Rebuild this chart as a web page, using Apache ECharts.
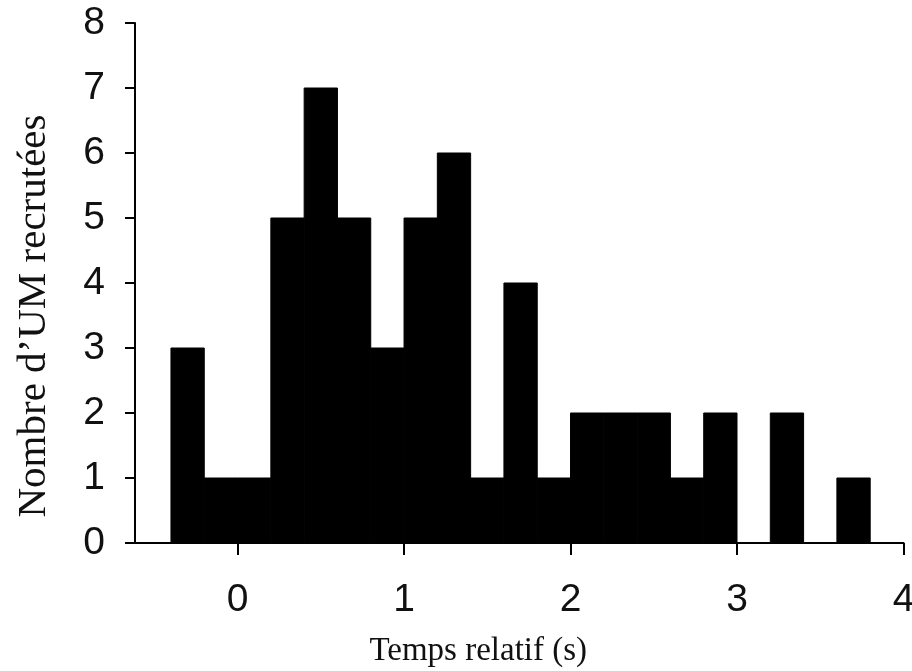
<!DOCTYPE html>
<html>
<head>
<meta charset="utf-8">
<style>html,body{margin:0;padding:0;background:#fff;}#c{width:912px;height:671px;}</style>
<script src="https://cdn.jsdelivr.net/npm/echarts@6.0.0/dist/echarts.min.js"></script>
</head>
<body>
<div id="c"></div>
<script>
// Histogram bins (s): start and end of each bin, and counts
const binStart = [-0.4,-0.2,0.0,0.2,0.4,0.6,0.8,1.0,1.2,1.4,1.6,1.8,2.0,2.2,2.4,2.6,2.8,3.0,3.2,3.4,3.6];
const binEnd   = [-0.2,0.0,0.2,0.4,0.6,0.8,1.0,1.2,1.4,1.6,1.8,2.0,2.2,2.4,2.6,2.8,3.0,3.2,3.4,3.6,3.8];
const counts   = [3,1,1,5,7,5,3,5,6,1,4,1,2,2,2,1,2,0,2,0,1];
const xTicks = [0,1,2,3,4];
const yTicks = [0,1,2,3,4,5,6,7,8];
const xTitle = 'Temps relatif (s)';
const yTitle = 'Nombre d\u2019UM recrutées';

const data = binStart.map((s,i)=>[s, binEnd[i], counts[i]]);
const chart = echarts.init(document.getElementById('c'), null, {renderer:'canvas'});
chart.setOption({
  animation:false,
  grid:{left:135, right:8.5, top:23, bottom:128, containLabel:false, outerBoundsMode:'none'},
  xAxis:{
    type:'value', min:-0.616, max:4,
    axisLine:{show:true, onZero:false, lineStyle:{color:'#000', width:2}},
    axisTick:{show:true, customValues:xTicks, length:12, lineStyle:{color:'#000', width:2}},
    axisLabel:{customValues:xTicks, fontFamily:'Liberation Sans', fontSize:39, color:'#111', margin:38},
    splitLine:{show:false},
    name:xTitle, nameLocation:'middle', nameGap:92,
    nameTextStyle:{fontFamily:'Liberation Serif', fontSize:33, color:'#111', padding:[0,82,0,0]}
  },
  yAxis:{
    type:'value', min:0, max:8, interval:1,
    axisLine:{show:true, onZero:false, lineStyle:{color:'#000', width:2}},
    axisTick:{show:true, length:10, lineStyle:{color:'#000', width:2}},
    axisLabel:{fontFamily:'Liberation Sans', fontSize:39, color:'#111', margin:30,
      formatter:(v)=> yTicks.includes(v) ? String(v) : ''},
    splitLine:{show:false},
    name:yTitle, nameLocation:'middle', nameGap:80,
    nameTextStyle:{fontFamily:'Liberation Serif', fontSize:41, color:'#111', padding:[0,66,0,0]}
  },
  series:[{
    type:'custom',
    data:data,
    encode:{x:[0,1], y:2},
    renderItem:function(params, api){
      const x0 = api.value(0), x1 = api.value(1), v = api.value(2);
      if (!v) return null;
      const p0 = api.coord([x0, v]);
      const p1 = api.coord([x1, 0]);
      return {type:'rect', shape:{x:p0[0], y:p0[1], width:p1[0]-p0[0], height:p1[1]-p0[1]},
        style:{fill:'#000', stroke:'#000', lineWidth:1}};
    }
  }]
});
</script>
</body>
</html>
